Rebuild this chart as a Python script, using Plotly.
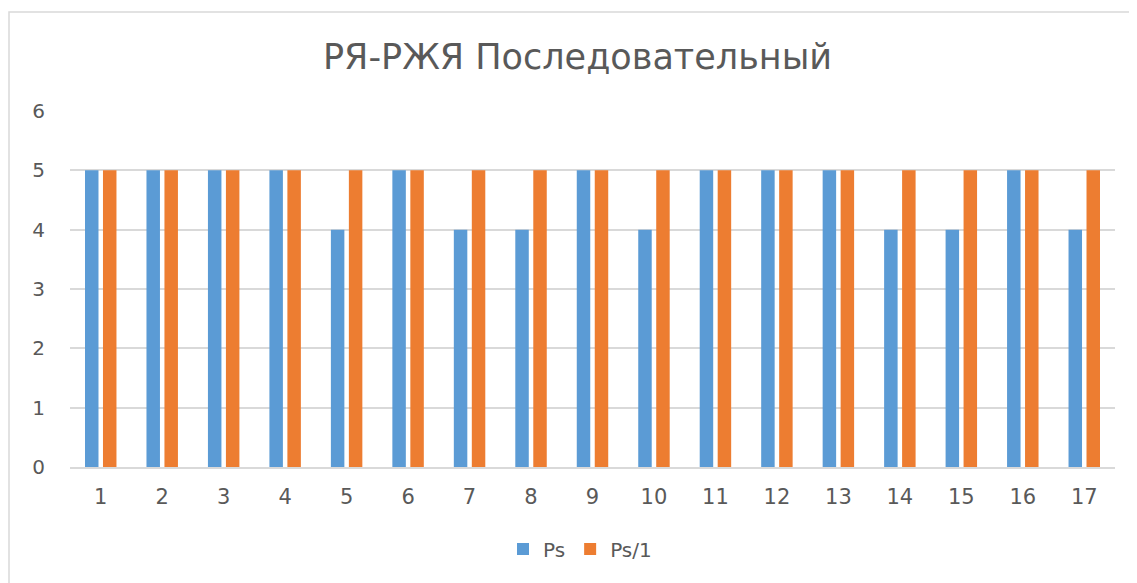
import plotly.graph_objects as go

categories = [str(i) for i in range(1, 18)]
ps = [5, 5, 5, 5, 4, 5, 4, 4, 5, 4, 5, 5, 5, 4, 4, 5, 4]
ps1 = [5, 5, 5, 5, 5, 5, 5, 5, 5, 5, 5, 5, 5, 5, 5, 5, 5]
title = "РЯ-РЖЯ Последовательный"

FONT = "DejaVu Sans"
GRAY = "#595959"

fig = go.Figure()
fig.add_trace(go.Bar(x=categories, y=ps, name="Ps", marker_color="#5B9BD5", marker_line_width=0))
fig.add_trace(go.Bar(x=categories, y=ps1, name="Ps/1", marker_color="#ED7D31", marker_line_width=0))

OFF = 8  # page body margin
W, H = 1137 - OFF, 583 - OFF
l, r, t, b = 70 - OFF, 22, 111 - OFF, 116
pw, ph = W - l - r, H - t - b

fig.update_layout(
    width=W, height=H,
    margin=dict(l=l, r=r, t=t, b=b, autoexpand=False),
    paper_bgcolor="white", plot_bgcolor="white",
    barmode="group", bargap=0.415, bargroupgap=0.25,
    title=dict(text=title, x=(577.5 - OFF) / W, xref="container", xanchor="center",
               y=1 - (57 - OFF) / H, yref="container", yanchor="middle",
               font=dict(family=FONT, size=35, color=GRAY)),
    font=dict(family=FONT, color=GRAY),
    showlegend=True,
    legend=dict(orientation="h", x=(580 - 70) / pw, xanchor="center", y=-(549 - 467) / ph, yanchor="middle",
                font=dict(family=FONT, size=20, color=GRAY)),
    xaxis=dict(type="category", showgrid=False, showline=True, linecolor="#D9D9D9", linewidth=1.5,
               ticks="outside", ticklen=10, tickcolor="rgba(0,0,0,0)",
               tickfont=dict(family=FONT, size=21, color=GRAY)),
    yaxis=dict(range=[0, 6], dtick=1, showgrid=True, gridcolor="#D9D9D9", gridwidth=1.5,
               zeroline=False, showline=False,
               ticks="outside", ticklen=20, tickcolor="rgba(0,0,0,0)",
               tickfont=dict(family=FONT, size=20, color=GRAY)),
    shapes=[dict(type="rect", xref="paper", yref="paper",
                 x0=(9 - 70) / pw, x1=1.2, y0=-0.5, y1=1 + (111 - 12) / ph,
                 line=dict(color="#D9D9D9", width=1.5), fillcolor="rgba(0,0,0,0)", layer="below")],
)

fig.write_html("out.html")
